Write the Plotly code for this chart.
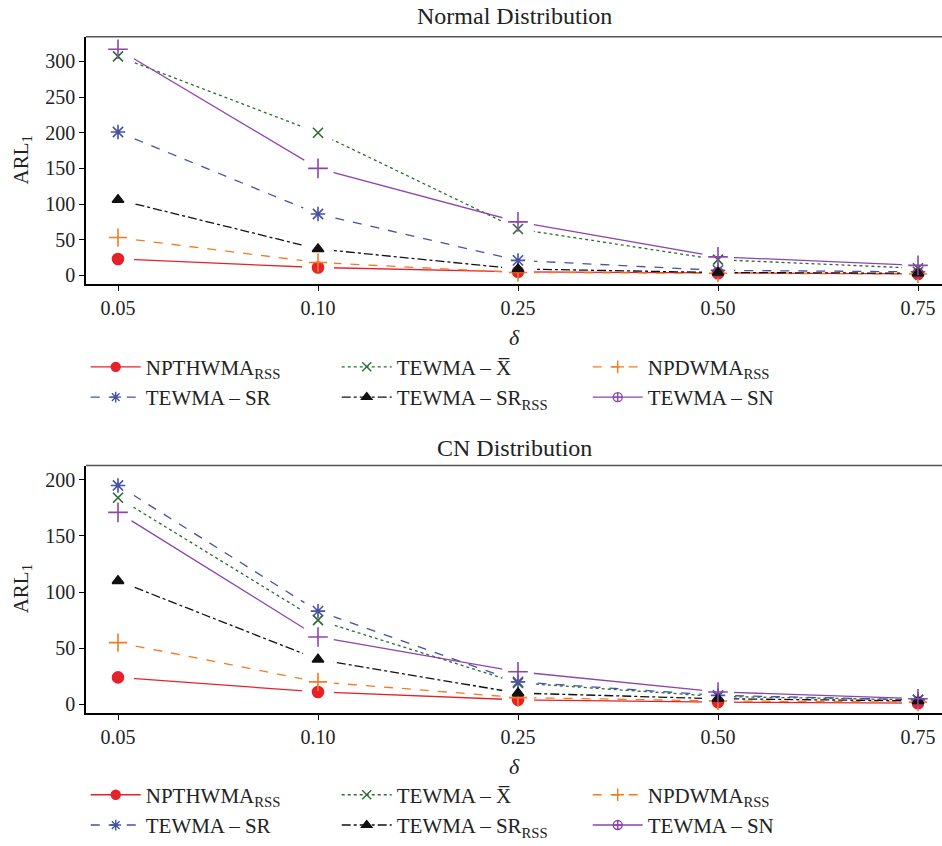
import plotly.graph_objects as go

delta_labels = ["0.05", "0.10", "0.25", "0.50", "0.75"]

series_names = [
    "NPTHWMA<sub>RSS</sub>",
    "TEWMA – X\u0305",
    "NPDWMA<sub>RSS</sub>",
    "TEWMA – SR",
    "TEWMA – SR<sub>RSS</sub>",
    "TEWMA – SN",
]

# Normal distribution ARL1
normal_npthwma = [23, 11, 5, 3, 2]
normal_tewma_x = [307, 200, 65, 22, 10]
normal_npdwma = [53, 18, 4, 3, 2]
normal_tewma_sr = [201, 86, 21, 7, 5]
normal_tewma_srrss = [106, 37, 9, 4, 3]
normal_tewma_sn = [317, 150, 75, 26, 14]

# CN distribution ARL1
cn_npthwma = [24, 11, 4, 2, 1]
cn_tewma_x = [184, 75, 19, 7, 4]
cn_npdwma = [55, 20, 6, 3, 2]
cn_tewma_sr = [195, 83, 20, 8, 4]
cn_tewma_srrss = [110, 40, 10, 5, 3]
cn_tewma_sn = [171, 60, 29, 11, 5]

normal_tick_vals = [0, 50, 100, 150, 200, 250, 300]
cn_tick_vals = [0, 50, 100, 150, 200]

colors = ["#e8202a", "#2a6e30", "#f47a20", "#4452a8", "#111111", "#8e44ad"]
dashes = ["solid", "dot", "dash", "dash", "dashdot", "solid"]
plot_symbols = ["circle", "x-thin-open", "cross-thin-open", "asterisk-open",
                "triangle-up", "cross-thin-open"]
legend_symbols = ["circle", "x-thin-open", "cross-thin-open", "asterisk-open",
                  "triangle-up", "circle-cross-open"]
marker_sizes = [11, 10, 13, 12, 10, 14]

SERIF = "Liberation Serif"
TXT = "#222"

fig = go.Figure()

panels = [
    (["x", "y"], [normal_npthwma, normal_tewma_x, normal_npdwma,
                  normal_tewma_sr, normal_tewma_srrss, normal_tewma_sn], "legend"),
    (["x2", "y2"], [cn_npthwma, cn_tewma_x, cn_npdwma,
                    cn_tewma_sr, cn_tewma_srrss, cn_tewma_sn], "legend2"),
]

for (xa, ya), data, leg in panels:
    # connecting lines
    for i, vals in enumerate(data):
        fig.add_trace(go.Scatter(
            x=delta_labels, y=vals, xaxis=xa, yaxis=ya,
            mode="lines", showlegend=False, hoverinfo="skip",
            line=dict(color=colors[i], dash=dashes[i], width=1.3),
        ))
    # white halos to leave a gap in the lines around each point (R type="b")
    for i, vals in enumerate(data):
        fig.add_trace(go.Scatter(
            x=delta_labels, y=vals, xaxis=xa, yaxis=ya,
            mode="markers", showlegend=False, hoverinfo="skip",
            marker=dict(symbol="circle", color="white", size=32, line=dict(width=0)),
        ))
    # point markers
    for i, vals in enumerate(data):
        fig.add_trace(go.Scatter(
            x=delta_labels, y=vals, xaxis=xa, yaxis=ya,
            mode="markers", showlegend=False,
            marker=dict(symbol=plot_symbols[i], color=colors[i], size=marker_sizes[i],
                        line=dict(color=colors[i], width=1.6)),
        ))
    # legend entries
    for i, name in enumerate(series_names):
        fig.add_trace(go.Scatter(
            x=[None], y=[None], xaxis=xa, yaxis=ya,
            mode="lines+markers", name=name, legend=leg,
            line=dict(color=colors[i], dash=dashes[i], width=1.4),
            marker=dict(symbol=legend_symbols[i], color=colors[i], size=9,
                        line=dict(color=colors[i], width=1.4)),
        ))

axis_common = dict(
    showline=True, linecolor="black", linewidth=1.5,
    ticks="outside", ticklen=5, tickcolor="black", tickwidth=1.2,
    showgrid=False, zeroline=False, layer="above traces",
    tickfont=dict(family=SERIF, size=20, color=TXT),
)

W, H = 942, 846
top_dom = [1 - 287 / H, 1 - 37 / H]
bot_dom = [1 - 720 / H, 1 - 470 / H]
x_dom = [86 / W, 1.0]

legend_common = dict(orientation="h", xanchor="left", yanchor="top",
                     entrywidth=186, entrywidthmode="pixels",
                     font=dict(family=SERIF, size=21, color=TXT),
                     bgcolor="rgba(0,0,0,0)", itemwidth=50)

fig.update_layout(
    width=W, height=H,
    margin=dict(l=0, r=0, t=0, b=0),
    paper_bgcolor="white", plot_bgcolor="white",
    font=dict(family=SERIF, color=TXT),
    xaxis=dict(axis_common, domain=x_dom, anchor="y", type="category",
               range=[-0.16, 4.12]),
    yaxis=dict(axis_common, domain=top_dom, anchor="x",
               range=[-12.5, 334.7], tickvals=normal_tick_vals),
    xaxis2=dict(axis_common, domain=x_dom, anchor="y2", type="category",
                range=[-0.16, 4.12]),
    yaxis2=dict(axis_common, domain=bot_dom, anchor="x2",
                range=[-7.9, 212.7], tickvals=cn_tick_vals),
    legend=dict(legend_common, x=0.091, y=1 - 350 / H),
    legend2=dict(legend_common, x=0.091, y=1 - 782 / H),
)

annotations = [
    dict(text="Normal Distribution", xref="x domain", yref="paper", x=0.5,
         y=1 - 16 / H, yanchor="middle", showarrow=False,
         font=dict(family=SERIF, size=24, color=TXT)),
    dict(text="CN Distribution", xref="x2 domain", yref="paper", x=0.5,
         y=1 - 452 / H, yanchor="middle", showarrow=False,
         font=dict(family=SERIF, size=24, color=TXT)),
    dict(text="<i>δ</i>", xref="x domain", yref="paper", x=0.5,
         y=1 - 341 / H, yanchor="middle", showarrow=False,
         font=dict(family=SERIF, size=22, color=TXT)),
    dict(text="<i>δ</i>", xref="x2 domain", yref="paper", x=0.5,
         y=1 - 774 / H, yanchor="middle", showarrow=False,
         font=dict(family=SERIF, size=22, color=TXT)),
    dict(text="ARL<sub>1</sub>", xref="paper", yref="paper", x=22 / W,
         y=1 - 162 / H, textangle=-90, showarrow=False, xanchor="center", yanchor="middle",
         font=dict(family=SERIF, size=21, color=TXT)),
    dict(text="ARL<sub>1</sub>", xref="paper", yref="paper", x=22 / W,
         y=1 - 595 / H, textangle=-90, showarrow=False, xanchor="center", yanchor="middle",
         font=dict(family=SERIF, size=21, color=TXT)),
]
fig.update_layout(annotations=annotations)

shapes = [
    dict(type="line", xref="x domain", yref="y domain", x0=0, x1=1, y0=1, y1=1,
         line=dict(color="#555", width=1.5)),
    dict(type="line", xref="x2 domain", yref="y2 domain", x0=0, x1=1, y0=1, y1=1,
         line=dict(color="#555", width=1.5)),
]
fig.update_layout(shapes=shapes)

fig.write_html("out.html", config={"displayModeBar": False},
               post_script="document.body.style.margin='0';document.body.style.overflow='hidden';")
